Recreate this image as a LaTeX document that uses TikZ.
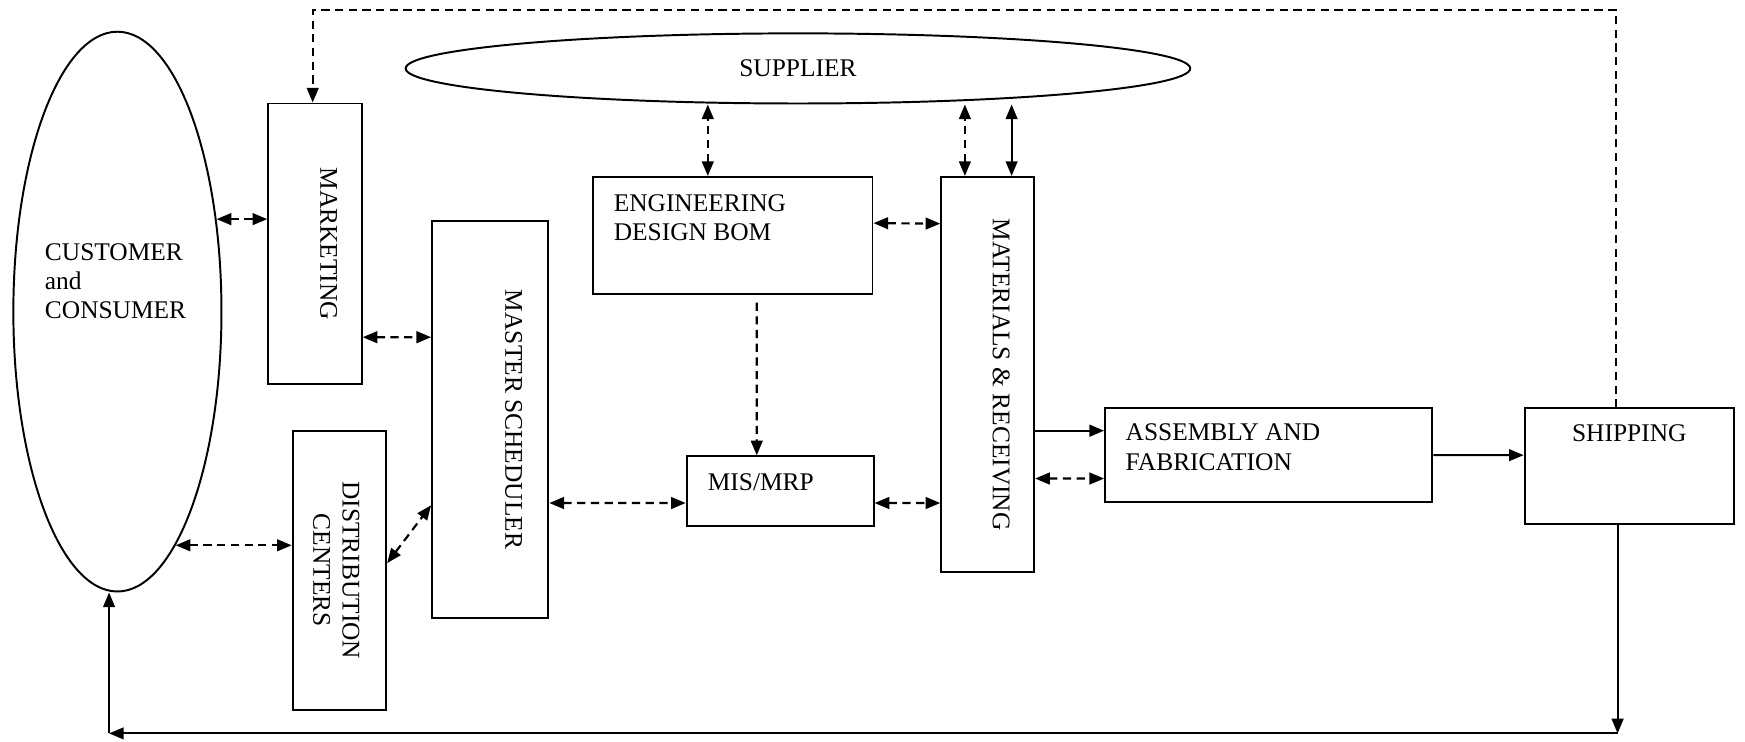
\documentclass[tikz,border=0pt]{standalone}
\usepackage{fontspec}
\setmainfont{Liberation Serif}
\usetikzlibrary{shapes.geometric,arrows.meta}

\begin{document}
\begin{tikzpicture}[>={Triangle[length=7.5pt,width=6pt]}, line width=1pt,
                    txt/.style={inner sep=0pt, font=\fontsize{13}{15}\selectfont},
                    dsh/.style={line width=1.1pt, dash pattern=on 4.2pt off 2.8pt}]
    \useasboundingbox (0,0) rectangle (31.36,-13.32);
    \begin{scope}[every node/.style={draw=black, inner sep=0pt, font=\fontsize{13}{15}\selectfont}]
        \node[ellipse, minimum width=3.74cm, minimum height=10.06cm] (cust) at (2.11,-5.60) {};
        \node[ellipse, minimum width=14.10cm, minimum height=1.26cm] (sup) at (14.34,-1.23) {SUPPLIER};
        \node[minimum width=1.68cm, minimum height=5.04cm] (mkt) at (5.66,-4.38) {};
        \node[minimum width=1.68cm, minimum height=5.02cm] (dist) at (6.10,-10.25) {};
        \node[minimum width=2.09cm, minimum height=7.13cm] (mst) at (8.81,-7.54) {};
        \node[minimum width=5.02cm, minimum height=2.10cm] (eng) at (13.17,-4.23) {};
        \node[minimum width=3.36cm, minimum height=1.26cm] (mis) at (14.02,-8.83) {};
        \node[minimum width=1.67cm, minimum height=7.10cm] (mat) at (17.75,-6.73) {};
        \node[minimum width=5.88cm, minimum height=1.68cm] (asm) at (22.80,-8.18) {};
        \node[minimum width=3.76cm, minimum height=2.08cm] (shp) at (29.28,-8.38) {};
    \end{scope}
    % texts (base = last line)
    \node[txt, align=left, anchor=base west] (custlbl) at ([shift={(-1.32,-0.13)}]cust.center) {CUSTOMER\\and\\CONSUMER};
    \node[txt, rotate=-90, anchor=north] (mktlbl) at ([xshift=-0.44cm]mkt.east) {MARKETING};
    \node[txt, rotate=-90, anchor=north, align=center] (distlbl) at ([xshift=-0.48cm]dist.east) {DISTRIBUTION\\CENTERS};
    \node[txt, rotate=-90, anchor=north] (mstlbl) at ([xshift=-0.47cm]mst.east) {MASTER SCHEDULER};
    \node[txt, rotate=-90, anchor=north] (matlbl) at ([xshift=-0.44cm]mat.east) {MATERIALS \& RECEIVING};
    \node[txt, align=left, anchor=base west] (englbl) at ([shift={(0.37,-1.16)}]eng.north west) {ENGINEERING\\DESIGN BOM};
    \node[txt, anchor=base west] (mislbl) at ([shift={(0.38,-0.64)}]mis.north west) {MIS/MRP};
    \node[txt, align=left, anchor=base west] (asmlbl) at ([shift={(0.37,-1.13)}]asm.north west) {ASSEMBLY AND\\FABRICATION};
    \node[txt, anchor=base] (shplbl) at ([yshift=-0.62cm]shp.north) {SHIPPING};
    % free ends
    \coordinate (e1) at ([xshift=-0.45cm]eng.north);
    \coordinate (m1) at ([xshift=-0.41cm]mat.north);
    \coordinate (m2) at ([xshift=0.43cm]mat.north);
    \coordinate (topr) at (29.04,-0.18);
    \coordinate (topl) at (5.62,-0.18);
    \coordinate (br) at (29.07,-13.18);
    \coordinate (bl) at (1.96,-13.18);
    \begin{scope}[every edge/.style={draw=black, dsh}]
        \draw (cust.43) edge[<->] (cust.43 -| mkt.west);
        \draw (cust.-76) edge[<->] (cust.-76 -| dist.west);
        \draw ([yshift=-1.68cm]mkt.east) edge[<->] ([yshift=1.48cm]mst.west);
        \draw ([yshift=0.13cm]dist.east) edge[<->] ([yshift=-1.54cm]mst.west);
        \draw ([yshift=-1.5cm]mst.east) edge[<->] ([yshift=-0.21cm]mis.west);
        \draw ([yshift=-0.21cm]mis.east) edge[<->] ([yshift=-2.31cm]mat.west);
        \draw ([yshift=0.22cm]eng.east) edge[<->] ([yshift=2.71cm]mat.west);
        \draw ([shift={(0.43,-0.14)}]eng.south) edge[->] ([xshift=-0.42cm]mis.north);
        \draw (e1) edge[<->] (e1 |- sup.south);
        \draw (m1) edge[<->] (m1 |- sup.south);
        \draw ([yshift=-1.87cm]mat.east) edge[<->] ([yshift=-0.42cm]asm.west);
    \end{scope}
    \draw[dsh,->] (shp.north -| topr) -- (topr) -- (topl) -- (topl |- mkt.north);
    \begin{scope}[every edge/.style={draw=black}]
        \draw (m2) edge[<->] (m2 |- sup.south);
        \draw ([yshift=-1.01cm]mat.east) edge[->] ([yshift=0.44cm]asm.west);
        \draw (asm.east) edge[->] ([yshift=0.2cm]shp.west);
        \draw (shp.south -| br) edge[->] (br);
        \draw (br) edge[->] (bl);
        \draw (bl) edge[->] (bl |- cust.south);
    \end{scope}
\end{tikzpicture}
\end{document}
